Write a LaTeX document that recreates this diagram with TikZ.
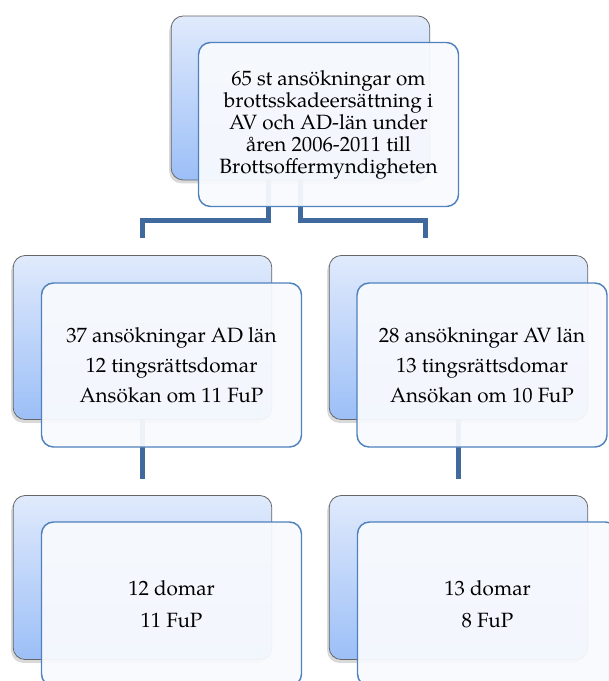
\documentclass[tikz,border=0pt]{standalone}
\usepackage{fontspec}
\setmainfont{TeX Gyre Pagella}
\usepackage{xcolor}
\usepackage{tikz}
\usetikzlibrary{shapes,positioning,shadows}

\definecolor{backtop}{RGB}{224,234,252}
\definecolor{backbot}{RGB}{156,191,247}
\definecolor{cardline}{RGB}{79,129,189}
\definecolor{cardfill}{RGB}{248,250,254}
\definecolor{linkblue}{RGB}{64,106,158}

\begin{document}
\begin{tikzpicture}[
    x=0.75pt, y=-0.75pt,
    back/.style={rectangle, rounded corners=9pt, draw=gray!80!black, line width=0.6pt, top color=backtop, bottom color=backbot, minimum width=194pt, minimum height=123pt, drop shadow={shadow xshift=-1.5pt, shadow yshift=-2.5pt, opacity=0.3}},
    card/.style={rectangle, rounded corners=9pt, draw=cardline, line width=1.1pt, fill=cardfill, fill opacity=0.94, text opacity=1, minimum width=195pt, minimum height=123pt, align=center, font=\fontsize{15.5}{16.5}\selectfont},
    link/.style={line width=3.75pt, linkblue}
]
    \useasboundingbox (0,0) rectangle (608,681);

    % Back boxes
    \node[back] (b0) at (300.5,98) {};
    \node[back] (b1) at (142.5,337.5) {};
    \node[back] (b2) at (458.5,337.5) {};
    \node[back] (b3) at (142.5,577.5) {};
    \node[back] (b4) at (458.5,577.5) {};

    % Connectors
    \coordinate (j1) at (142.5,238);
    \coordinate (j2) at (425,238);
    \coordinate (j3) at (142.5,479);
    \coordinate (j4) at (458.5,479);
    \draw[link] ([shift={(-32.5,0)}]b0.south) -- ++(0,40) -| (j1);
    \draw[link] (b0.south) -- ++(0,40) -| (j2);
    \draw[link] (b1.south) -- (j3);
    \draw[link] (b2.south) -- (j4);

    % Text cards
    \node[card] (c0) at ([shift={(28,26.5)}]b0) {65 st ansökningar om\\brottsskadeersättning i\\AV och AD-län under\\åren 2006-2011 till\\Brottsoffermyndigheten};
    \node[card] (c1) at ([shift={(29,27.5)}]b1) {37 ansökningar AD län\\[6pt]12 tingsrättsdomar\\[6pt]Ansökan om 11 FuP};
    \node[card, minimum width=187.5pt] (c2) at ([shift={(23.5,27.5)}]b2) {28 ansökningar AV län\\[6pt]13 tingsrättsdomar\\[6pt]Ansökan om 10 FuP};
    \node[card] (c3) at ([shift={(29,26.5)}]b3) {12 domar\\[7.5pt]11 FuP};
    \node[card] (c4) at ([shift={(29,26.5)}]b4) {13 domar\\[7.5pt]8 FuP};
\end{tikzpicture}
\end{document}
